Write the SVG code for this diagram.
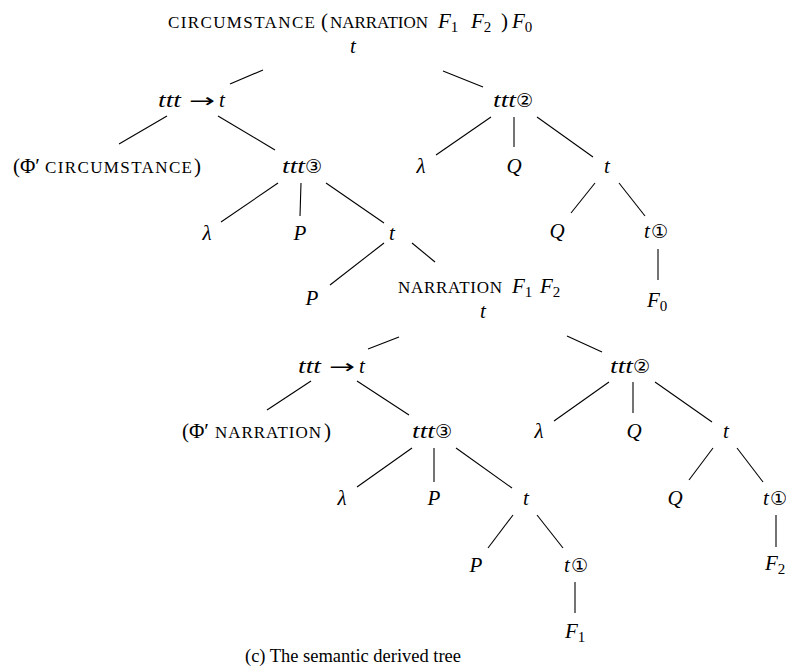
<svg xmlns="http://www.w3.org/2000/svg" width="786" height="667" viewBox="0 0 786 667">
<style>
.m{font-family:"Liberation Serif","DejaVu Serif",serif;font-style:italic;font-size:21px;fill:#000}
.r{font-family:"Liberation Serif","DejaVu Serif",serif;font-style:normal;font-size:21px;fill:#000}
.ar{font-family:"DejaVu Sans",sans-serif;font-style:normal;font-size:19px;fill:#000}
.sc{font-family:"Liberation Serif","DejaVu Serif",serif;font-style:normal;font-size:17px;fill:#000}
.c{font-family:"DejaVu Sans",sans-serif;font-style:normal;font-size:19px;fill:#000}
.sub{font-family:"Liberation Serif","DejaVu Serif",serif;font-style:normal;font-size:15px}
.cap{font-family:"Liberation Serif","DejaVu Serif",serif;font-size:18.5px;fill:#000}
.e line{stroke:#000;stroke-width:1.1}
</style>
<rect width="786" height="667" fill="#fff"/>
<g id="edges" class="e">
<line x1="263" y1="70" x2="230" y2="84"/>
<line x1="443" y1="71" x2="483" y2="87"/>
<line x1="167" y1="116" x2="119" y2="144"/>
<line x1="218" y1="116" x2="275" y2="150"/>
<line x1="278" y1="183" x2="221" y2="222"/>
<line x1="301" y1="183" x2="300" y2="216"/>
<line x1="326" y1="183" x2="384" y2="223"/>
<line x1="384" y1="243" x2="330" y2="285"/>
<line x1="412" y1="243" x2="435" y2="262"/>
<line x1="491" y1="117" x2="436" y2="155"/>
<line x1="514" y1="117" x2="514" y2="147"/>
<line x1="537" y1="117" x2="593" y2="157"/>
<line x1="595" y1="183" x2="571" y2="213"/>
<line x1="619" y1="183" x2="645" y2="216"/>
<line x1="658" y1="249" x2="658" y2="280"/>
<line x1="399" y1="337" x2="368" y2="349"/>
<line x1="567" y1="336" x2="602" y2="352"/>
<line x1="311" y1="381" x2="267" y2="410"/>
<line x1="357" y1="381" x2="409" y2="415"/>
<line x1="609" y1="382" x2="554" y2="421"/>
<line x1="633" y1="382" x2="633" y2="413"/>
<line x1="655" y1="382" x2="712" y2="422"/>
<line x1="412" y1="448" x2="357" y2="487"/>
<line x1="434" y1="448" x2="434" y2="482"/>
<line x1="456" y1="448" x2="512" y2="488"/>
<line x1="513" y1="515" x2="488" y2="548"/>
<line x1="537" y1="515" x2="563" y2="548"/>
<line x1="575" y1="582" x2="575" y2="613"/>
<line x1="713" y1="448" x2="689" y2="480"/>
<line x1="737" y1="448" x2="763" y2="482"/>
<line x1="776" y1="515" x2="776" y2="547"/>
</g>
<g id="root">
<text class="sc" x="168" y="28" textLength="147">CIRCUMSTANCE</text>
<text class="r" x="321" y="28">(</text>
<text class="sc" x="330" y="28" textLength="98">NARRATION</text>
<text class="m" x="438" y="28">F<tspan class="sub" dy="4">1</tspan></text>
<text class="m" x="471" y="28">F<tspan class="sub" dy="4">2</tspan></text>
<text class="r" x="501" y="28">)</text>
<text class="m" x="512" y="28">F<tspan class="sub" dy="4">0</tspan></text>
<text class="m" x="353" y="53" text-anchor="middle">t</text>
</g>
<g id="n_app1">
<text class="m" x="158" y="107" textLength="23" lengthAdjust="spacingAndGlyphs">ttt</text>
<text class="ar" x="189" y="107" textLength="26" lengthAdjust="spacingAndGlyphs">→</text>
<text class="m" x="219" y="107">t</text>
</g>
<g id="n_phi_circ">
<text class="r" x="13" y="173">(Φ′</text>
<text class="sc" x="45" y="173" textLength="147">CIRCUMSTANCE</text>
<text class="r" x="194" y="173">)</text>
</g>
<g id="n_ttt3a"><text class="m" x="282" y="173" textLength="23" lengthAdjust="spacingAndGlyphs">ttt</text><text class="c" x="305" y="173">③</text></g>
<g id="n_lam1"><text class="m" x="207" y="240" text-anchor="middle">λ</text></g>
<g id="n_P1"><text class="m" x="300" y="240" text-anchor="middle">P</text></g>
<g id="n_t1"><text class="m" x="392" y="240" text-anchor="middle">t</text></g>
<g id="n_P2"><text class="m" x="312" y="305" text-anchor="middle">P</text></g>
<g id="n_narr">
<text class="sc" x="398" y="293" textLength="104">NARRATION</text>
<text class="m" x="512" y="293">F<tspan class="sub" dy="4">1</tspan></text>
<text class="m" x="540" y="293">F<tspan class="sub" dy="4">2</tspan></text>
<text class="m" x="483" y="318" text-anchor="middle">t</text>
</g>
<g id="n_ttt2a"><text class="m" x="493" y="107" textLength="23" lengthAdjust="spacingAndGlyphs">ttt</text><text class="c" x="516" y="107">②</text></g>
<g id="n_lam2"><text class="m" x="421" y="173" text-anchor="middle">λ</text></g>
<g id="n_Q1"><text class="m" x="514" y="173" text-anchor="middle">Q</text></g>
<g id="n_t2"><text class="m" x="607" y="173" text-anchor="middle">t</text></g>
<g id="n_Q2"><text class="m" x="557" y="238" text-anchor="middle">Q</text></g>
<g id="n_t1a"><text class="m" x="644" y="238">t</text><text class="c" x="651" y="238">①</text></g>
<g id="n_F0"><text class="m" x="647" y="307">F<tspan class="sub" dy="4">0</tspan></text></g>
<g id="n_app2">
<text class="m" x="298" y="373" textLength="23" lengthAdjust="spacingAndGlyphs">ttt</text>
<text class="ar" x="329" y="373" textLength="26" lengthAdjust="spacingAndGlyphs">→</text>
<text class="m" x="359" y="373">t</text>
</g>
<g id="n_phi_narr">
<text class="r" x="182" y="438">(Φ′</text>
<text class="sc" x="215" y="438" textLength="106">NARRATION</text>
<text class="r" x="324" y="438">)</text>
</g>
<g id="n_ttt3b"><text class="m" x="412" y="438" textLength="23" lengthAdjust="spacingAndGlyphs">ttt</text><text class="c" x="435" y="438">③</text></g>
<g id="n_lam3"><text class="m" x="342" y="505" text-anchor="middle">λ</text></g>
<g id="n_P3"><text class="m" x="434" y="505" text-anchor="middle">P</text></g>
<g id="n_t3"><text class="m" x="526" y="505" text-anchor="middle">t</text></g>
<g id="n_P4"><text class="m" x="476" y="572" text-anchor="middle">P</text></g>
<g id="n_t1b"><text class="m" x="564" y="572">t</text><text class="c" x="571" y="572">①</text></g>
<g id="n_F1"><text class="m" x="565" y="638">F<tspan class="sub" dy="4">1</tspan></text></g>
<g id="n_ttt2b"><text class="m" x="610" y="373" textLength="23" lengthAdjust="spacingAndGlyphs">ttt</text><text class="c" x="633" y="373">②</text></g>
<g id="n_lam4"><text class="m" x="539" y="438" text-anchor="middle">λ</text></g>
<g id="n_Q3"><text class="m" x="634" y="438" text-anchor="middle">Q</text></g>
<g id="n_t4"><text class="m" x="726" y="438" text-anchor="middle">t</text></g>
<g id="n_Q4"><text class="m" x="675" y="505" text-anchor="middle">Q</text></g>
<g id="n_t1c"><text class="m" x="763" y="505">t</text><text class="c" x="770" y="505">①</text></g>
<g id="n_F2"><text class="m" x="765" y="570">F<tspan class="sub" dy="4">2</tspan></text></g>
<g id="caption"><text class="cap" x="245" y="662" textLength="216">(c) The semantic derived tree</text></g>
</svg>
